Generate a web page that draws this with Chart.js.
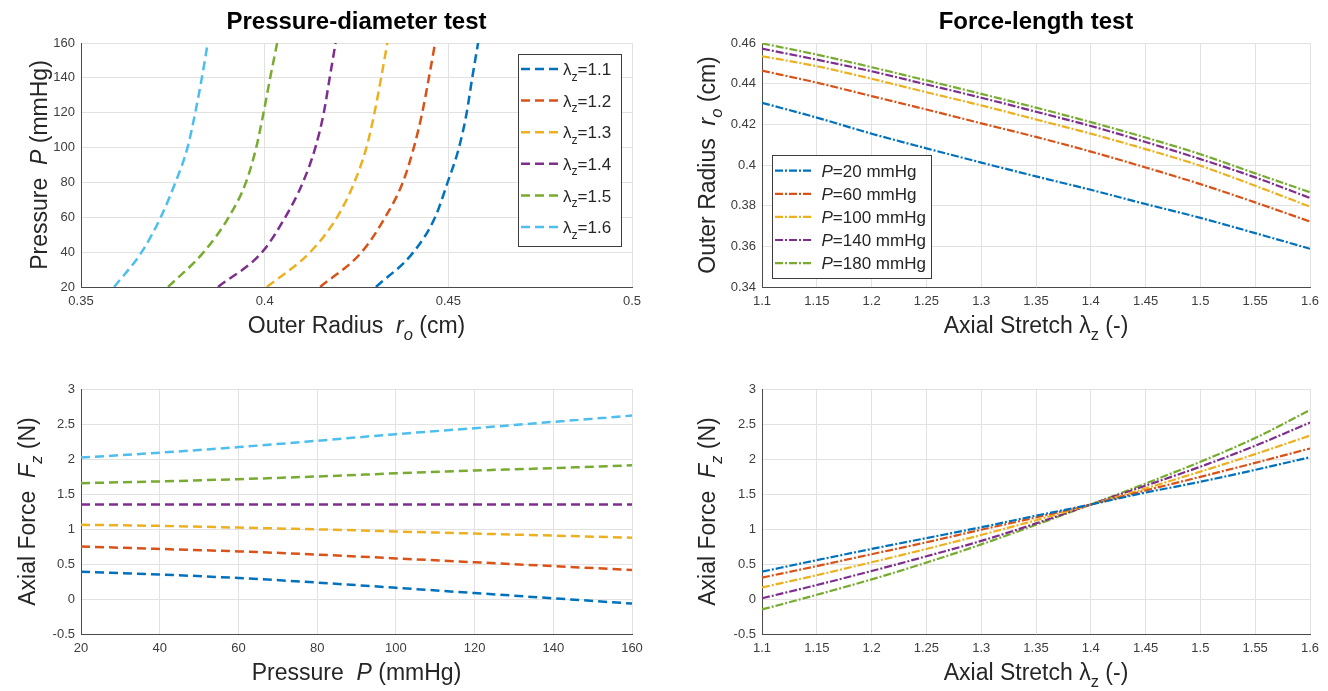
<!DOCTYPE html>
<html>
<head>
<meta charset="utf-8">
<title>Pressure-diameter and force-length tests</title>
<script src="https://cdn.jsdelivr.net/npm/chart.js@4"></script>
<style>
  html, body { margin: 0; padding: 0; background: #fff; width: 1328px; height: 691px; overflow: hidden; }
  .panel { position: absolute; width: 664px; }
  canvas { display: block; }
</style>
</head>
<body>
<div class="panel" style="left:0;top:0"><canvas id="pdRadius" width="664" height="345"></canvas></div>
<div class="panel" style="left:664px;top:0"><canvas id="flRadius" width="664" height="345"></canvas></div>
<div class="panel" style="left:0;top:345px"><canvas id="pdForce" width="664" height="346"></canvas></div>
<div class="panel" style="left:664px;top:345px"><canvas id="flForce" width="664" height="346"></canvas></div>
<script>
const COLORS = ['#0072BD', '#D95319', '#EDB120', '#7E2F8E', '#77AC30', '#4DBEEE'];
const FONT = "'Liberation Sans', Arial, Helvetica, sans-serif";
const GRID = '#e2e2e2';
const AXIS = '#4a4a4a';

// pressure-diameter test: one curve per axial stretch
const stretchLevels = [1.1, 1.2, 1.3, 1.4, 1.5, 1.6];
const pressures = [20, 40, 60, 80, 100, 120, 140, 160];
const radiusL11 = [0.4303, 0.4405, 0.4464, 0.4498, 0.4529, 0.4550, 0.4565, 0.4581];
const radiusL12 = [0.4151, 0.4264, 0.4328, 0.4376, 0.4406, 0.4429, 0.4447, 0.4464];
const radiusL13 = [0.4006, 0.4124, 0.4197, 0.4244, 0.4277, 0.4299, 0.4317, 0.4334];
const radiusL14 = [0.3873, 0.3993, 0.4056, 0.4104, 0.4138, 0.4161, 0.4177, 0.4193];
const radiusL15 = [0.3737, 0.3834, 0.3902, 0.3949, 0.3977, 0.3997, 0.4015, 0.4034];
const radiusL16 = [0.3590, 0.3665, 0.3717, 0.3757, 0.3790, 0.3811, 0.3829, 0.3845];
const forceL11 = [0.39, 0.35, 0.30, 0.235, 0.16, 0.085, 0.01, -0.065];
const forceL12 = [0.75, 0.715, 0.68, 0.635, 0.58, 0.525, 0.47, 0.415];
const forceL13 = [1.06, 1.045, 1.02, 0.995, 0.965, 0.935, 0.905, 0.875];
const forceL14 = [1.35, 1.35, 1.35, 1.35, 1.35, 1.35, 1.35, 1.35];
const forceL15 = [1.655, 1.68, 1.712, 1.75, 1.795, 1.835, 1.87, 1.91];
const forceL16 = [2.02, 2.09, 2.17, 2.26, 2.355, 2.44, 2.53, 2.62];

// force-length test: one curve per pressure
const pressureLevels = [20, 60, 100, 140, 180];
const stretches = [1.1, 1.15, 1.2, 1.25, 1.3, 1.35, 1.4, 1.45, 1.5, 1.55, 1.6];
const radiusP20 = [0.4306, 0.4233, 0.4154, 0.4082, 0.4012, 0.3944, 0.3878, 0.3808, 0.3740, 0.3665, 0.3588];
const radiusP60 = [0.4464, 0.4405, 0.4339, 0.4273, 0.4205, 0.4138, 0.4066, 0.3988, 0.3906, 0.3816, 0.3722];
const radiusP100 = [0.4535, 0.4486, 0.4424, 0.4358, 0.4293, 0.4224, 0.4154, 0.4078, 0.3996, 0.3898, 0.3795];
const radiusP140 = [0.4572, 0.4518, 0.4461, 0.4396, 0.4331, 0.4262, 0.4192, 0.4113, 0.4029, 0.3939, 0.3838];
const radiusP180 = [0.4598, 0.4543, 0.4481, 0.4416, 0.4350, 0.4282, 0.4211, 0.4135, 0.4053, 0.3959, 0.3866];
const forceP20 = [0.39, 0.555, 0.715, 0.87, 1.025, 1.19, 1.35, 1.52, 1.675, 1.845, 2.025];
const forceP60 = [0.305, 0.47, 0.64, 0.81, 0.99, 1.165, 1.35, 1.55, 1.745, 1.945, 2.15];
const forceP100 = [0.165, 0.34, 0.525, 0.715, 0.915, 1.125, 1.35, 1.58, 1.82, 2.07, 2.335];
const forceP140 = [0.01, 0.20, 0.40, 0.61, 0.83, 1.08, 1.35, 1.62, 1.89, 2.19, 2.52];
const forceP180 = [-0.15, 0.06, 0.28, 0.52, 0.78, 1.06, 1.35, 1.65, 1.96, 2.30, 2.70];

const DASH = [9, 5];          // '--'
const DASHDOT = [8, 2, 2, 2]; // '-.'
const TITLE_SIZE = 23;

function fmt(v) { return String(Math.round(v * 1e4) / 1e4); }

// text with italic / subscript pieces: 'plain' or [text, 'i' | 's' | 'is']
function drawRich(ctx, parts, x, y, size, align) {
  const segs = parts.map(p => {
    const [t, f] = typeof p === 'string' ? [p, ''] : p;
    const sub = f.includes('s');
    const font = (f.includes('i') ? 'italic ' : '') + (sub ? size * 0.72 : size) + 'px ' + FONT;
    ctx.font = font;
    return { t, font, w: ctx.measureText(t).width, dy: sub ? size * 0.32 : 0 };
  });
  const total = segs.reduce((s, g) => s + g.w, 0);
  let cx = align === 'left' ? x : x - total / 2;
  ctx.textAlign = 'left';
  ctx.textBaseline = 'alphabetic';
  segs.forEach(g => { ctx.font = g.font; ctx.fillText(g.t, cx, y + g.dy); cx += g.w; });
}

// axis titles and the boxed legend
function annotate(spec) {
  return {
    id: 'annotate',
    afterDraw(chart) {
      const ctx = chart.ctx, a = chart.chartArea;
      ctx.save();
      ctx.fillStyle = '#262626';
      drawRich(ctx, spec.xTitle, (a.left + a.right) / 2, a.bottom + 46, TITLE_SIZE);
      ctx.save();
      ctx.translate(spec.yTitleAt, (a.top + a.bottom) / 2);
      ctx.rotate(-Math.PI / 2);
      drawRich(ctx, spec.yTitle, 0, 0, TITLE_SIZE);
      ctx.restore();

      const lg = spec.legend;
      if (lg) {
        const left = lg.fromRight ? a.right - lg.dx - lg.width : a.left + lg.dx;
        const top = lg.fromBottom ? a.bottom - lg.dy - lg.height : a.top + lg.dy;
        ctx.fillStyle = '#fff';
        ctx.fillRect(left, top, lg.width, lg.height);
        ctx.strokeStyle = '#3c3c3c';
        ctx.lineWidth = 1;
        ctx.setLineDash([]);
        ctx.strokeRect(Math.round(left) + 0.5, Math.round(top) + 0.5, lg.width, lg.height);
        chart.data.datasets.forEach((ds, i) => {
          const cy = top + lg.first + i * lg.step;
          ctx.strokeStyle = ds.borderColor;
          ctx.lineWidth = ds.borderWidth;
          ctx.setLineDash(ds.borderDash);
          ctx.beginPath();
          ctx.moveTo(left + lg.line[0], cy);
          ctx.lineTo(left + lg.line[1], cy);
          ctx.stroke();
          ctx.setLineDash([]);
          ctx.fillStyle = '#262626';
          drawRich(ctx, lg.labels[i], left + lg.textX, cy + lg.size * 0.36, lg.size, 'left');
        });
      }
      ctx.restore();
    }
  };
}

function curve(xs, ys, color, dash, width) {
  return {
    data: xs.map((x, i) => ({ x, y: ys[i] })),
    borderColor: color, borderWidth: width, borderDash: dash,
    pointRadius: 0, fill: false, cubicInterpolationMode: 'monotone'
  };
}

function axis(min, max, step, size, horizontal) {
  return {
    type: 'linear', min, max,
    ticks: { stepSize: step, color: '#3d3d3d', font: { family: FONT, size: 13 }, padding: horizontal ? 7 : 6,
             autoSkip: false, maxRotation: 0, callback: fmt },
    grid: { color: GRID, lineWidth: 1, drawTicks: false },
    border: { color: AXIS, width: 1 },
    afterFit: s => { if (horizontal) s.height = size; else s.width = size; }
  };
}

function makeChart(id, datasets, sc, title, pad, spec) {
  new Chart(document.getElementById(id), {
    type: 'line',
    data: { datasets },
    options: {
      responsive: false, animation: false,
      layout: { padding: pad },
      scales: { x: axis(sc.x[0], sc.x[1], sc.x[2], sc.h, true), y: axis(sc.y[0], sc.y[1], sc.y[2], sc.w, false) },
      plugins: {
        legend: { display: false },
        tooltip: { enabled: false },
        title: {
          display: !!title, text: title, fullSize: false, color: '#000',
          font: { family: FONT, size: 24, weight: 'bold' },
          padding: { top: 8, bottom: 6.2 }
        }
      }
    },
    plugins: [annotate(spec)]
  });
}

const radiusByStretch = [radiusL11, radiusL12, radiusL13, radiusL14, radiusL15, radiusL16];
const forceByStretch = [forceL11, forceL12, forceL13, forceL14, forceL15, forceL16];
const radiusByPressure = [radiusP20, radiusP60, radiusP100, radiusP140, radiusP180];
const forceByPressure = [forceP20, forceP60, forceP100, forceP140, forceP180];

const stretchLabels = stretchLevels.map(s => ['λ', ['z', 's'], '=' + s]);
const pressureLabels = pressureLevels.map(p => [['P', 'i'], '=' + p + ' mmHg']);

// Pressure-diameter test: radius vs pressure
makeChart('pdRadius',
  radiusByStretch.map((r, i) => curve(r, pressures, COLORS[i], DASH, 2.5)),
  { x: [0.35, 0.5, 0.05], y: [20, 160, 20], h: 58, w: 81 },
  'Pressure-diameter test', { left: 0, right: 32, top: 0, bottom: 0 },
  {
    xTitle: ['Outer Radius  ', ['r', 'i'], ['o', 'is'], ' (cm)'],
    yTitle: ['Pressure  ', ['P', 'i'], ' (mmHg)'], yTitleAt: 47,
    legend: { fromRight: true, dx: 11, dy: 11, width: 103, height: 192, first: 15, step: 31.6,
              line: [3, 41], textX: 45, size: 17, labels: stretchLabels }
  });

// Force-length test: radius vs axial stretch
makeChart('flRadius',
  radiusByPressure.map((r, i) => curve(stretches, r, COLORS[i], DASHDOT, 2.2)),
  { x: [1.1, 1.6, 0.05], y: [0.34, 0.46, 0.02], h: 58, w: 98 },
  'Force-length test', { left: 0, right: 18, top: 0, bottom: 0 },
  {
    xTitle: ['Axial Stretch λ', ['z', 's'], ' (-)'],
    yTitle: ['Outer Radius  ', ['r', 'i'], ['o', 'is'], ' (cm)'], yTitleAt: 51,
    legend: { fromBottom: true, dx: 10, dy: 9, width: 159, height: 123, first: 15.7, step: 23.1,
              line: [3, 41], textX: 49.5, size: 17, labels: pressureLabels }
  });

// axial force vs pressure
makeChart('pdForce',
  forceByStretch.map((f, i) => curve(pressures, f, COLORS[i], DASH, 2.5)),
  { x: [20, 160, 20], y: [-0.5, 3, 0.5], h: 57, w: 81 },
  '', { left: 0, right: 32, top: 44, bottom: 0 },
  {
    xTitle: ['Pressure  ', ['P', 'i'], ' (mmHg)'],
    yTitle: ['Axial Force  ', ['F', 'i'], ['z', 'is'], ' (N)'], yTitleAt: 35
  });

// axial force vs axial stretch
makeChart('flForce',
  forceByPressure.map((f, i) => curve(stretches, f, COLORS[i], DASHDOT, 2.2)),
  { x: [1.1, 1.6, 0.05], y: [-0.5, 3, 0.5], h: 57, w: 98 },
  '', { left: 0, right: 18, top: 44, bottom: 0 },
  {
    xTitle: ['Axial Stretch λ', ['z', 's'], ' (-)'],
    yTitle: ['Axial Force  ', ['F', 'i'], ['z', 'is'], ' (N)'], yTitleAt: 51
  });
</script>
</body>
</html>
